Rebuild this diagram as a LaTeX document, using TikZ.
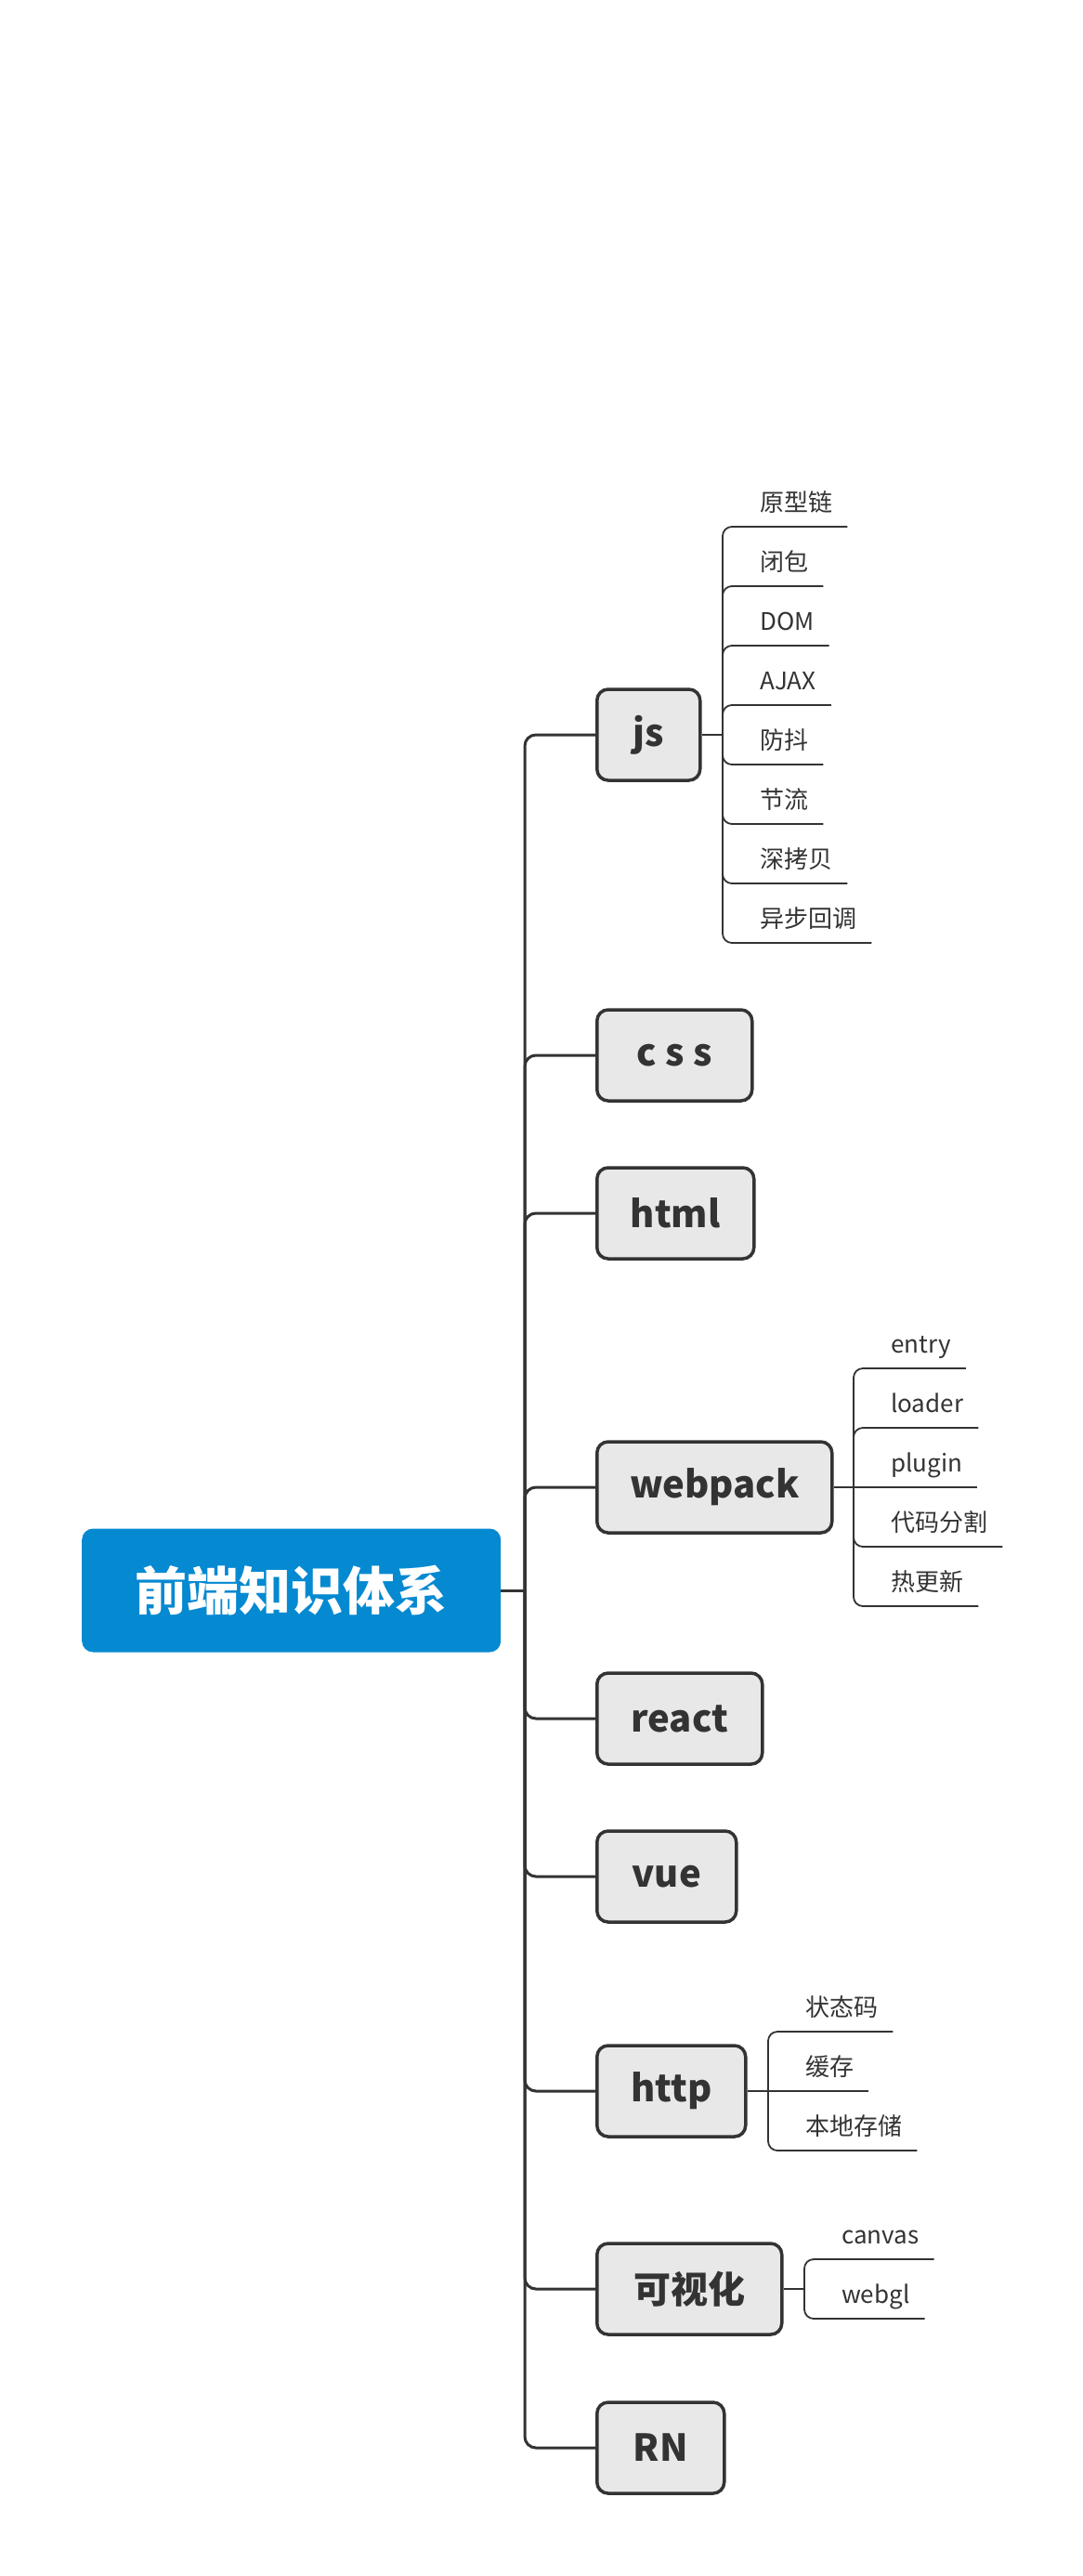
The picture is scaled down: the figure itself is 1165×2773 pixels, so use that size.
\documentclass[tikz,border=0pt]{standalone}
\usepackage{fontspec}
\setmainfont{Noto Sans CJK SC}
\definecolor{rootblue}{HTML}{0589D1}
\definecolor{boxgray}{HTML}{E8E8E8}
\definecolor{ink}{HTML}{333333}
\tikzset{
  rootbox/.style={fill=rootblue, rounded corners=12pt, minimum width=451pt, minimum height=133pt,
    text=white, font=\fontsize{56}{64}\selectfont\bfseries, anchor=west},
  topic/.style={draw=ink, line width=3.5pt, fill=boxgray, rounded corners=12pt, minimum height=98pt,
    inner xsep=0pt, text=ink, font=\fontsize{40}{48}\selectfont\bfseries, anchor=west},
  leaf/.style={anchor=south west, inner xsep=16pt, inner ysep=0pt, text depth=16pt,
    text=ink, font=\fontsize{26}{30}\selectfont},
  branch/.style={draw=ink, line width=3pt, rounded corners=12pt},
  twig/.style={draw=ink, line width=1.8pt, rounded corners=10pt},
}
\begin{document}
\begin{tikzpicture}[x=1pt, y=-1pt] %前端知识体系
    \useasboundingbox (0,0) rectangle (1165,2773);

    \node[rootbox] (root) at (88,1712) {前端知识体系};
    \coordinate (sp) at (565,1712);
    \draw[branch] (root.east) -- (sp);

    \node[topic, minimum width=111pt] (js) at (641,791) {js};
    \node[topic, minimum width=167pt] (css) at (641,1136) {c s s};
    \node[topic, minimum width=169pt] (html) at (641,1306) {html};
    \node[topic, minimum width=253pt] (wp) at (641,1601) {webpack};
    \node[topic, minimum width=178pt] (react) at (641,1850) {react};
    \node[topic, minimum width=150pt] (vue) at (641,2020) {vue};
    \node[topic, minimum width=160pt] (http) at (641,2251) {http};
    \node[topic, minimum width=199pt] (vis) at (641,2464) {可视化};
    \node[topic, minimum width=137pt] (rn) at (641,2635) {RN};

    \draw[branch] (sp) |- (js.west);
    \draw[branch] (sp) |- (css.west);
    \draw[branch] (sp) |- (html.west);
    \draw[branch] (sp) |- (wp.west);
    \draw[branch] (sp) |- (react.west);
    \draw[branch] (sp) |- (vue.west);
    \draw[branch] (sp) |- (http.west);
    \draw[branch] (sp) |- (vis.west);
    \draw[branch] (sp) |- (rn.west);

    % js
    \coordinate (jsj) at (778,791);
    \draw[twig] (js.east) -- (jsj);
    \node[leaf] (js1) at (802,567) {原型链};
    \node[leaf] (js2) at (802,631) {闭包};
    \node[leaf] (js3) at (802,695) {DOM};
    \node[leaf] (js4) at (802,759) {AJAX};
    \node[leaf] (js5) at (802,823) {防抖};
    \node[leaf] (js6) at (802,887) {节流};
    \node[leaf] (js7) at (802,951) {深拷贝};
    \node[leaf] (js8) at (802,1015) {异步回调};
    \draw[twig] (jsj) |- (js1.south east);
    \draw[twig] (jsj) |- (js2.south east);
    \draw[twig] (jsj) |- (js3.south east);
    \draw[twig] (jsj) |- (js4.south east);
    \draw[twig] (jsj) |- (js5.south east);
    \draw[twig] (jsj) |- (js6.south east);
    \draw[twig] (jsj) |- (js7.south east);
    \draw[twig] (jsj) |- (js8.south east);

    % webpack
    \coordinate (wpj) at (919,1601);
    \node[leaf] (wp1) at (943,1473) {entry};
    \node[leaf] (wp2) at (943,1537) {loader};
    \node[leaf] (wp3) at (943,1601) {plugin};
    \node[leaf] (wp4) at (943,1665) {代码分割};
    \node[leaf] (wp5) at (943,1729) {热更新};
    \draw[twig] (wp.east) -- (wpj) -- (wp3.south east);
    \draw[twig] (wpj) |- (wp1.south east);
    \draw[twig] (wpj) |- (wp2.south east);
    \draw[twig] (wpj) |- (wp4.south east);
    \draw[twig] (wpj) |- (wp5.south east);

    % http
    \coordinate (hj) at (827,2251);
    \node[leaf] (h1) at (851,2187) {状态码};
    \node[leaf] (h2) at (851,2251) {缓存};
    \node[leaf] (h3) at (851,2315) {本地存储};
    \draw[twig] (http.east) -- (hj) -- (h2.south east);
    \draw[twig] (hj) |- (h1.south east);
    \draw[twig] (hj) |- (h3.south east);

    % 可视化
    \coordinate (vj) at (866,2464);
    \draw[twig] (vis.east) -- (vj);
    \node[leaf] (v1) at (890,2432) {canvas};
    \node[leaf] (v2) at (890,2496) {webgl};
    \draw[twig] (vj) |- (v1.south east);
    \draw[twig] (vj) |- (v2.south east);
\end{tikzpicture}
\end{document}
